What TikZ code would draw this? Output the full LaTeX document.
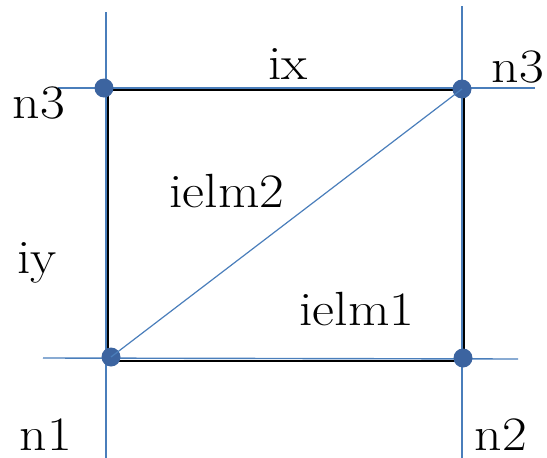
\documentclass[tikz,border=0pt]{standalone}
\newcommand{\widetxt}[1]{\scalebox{1.12}[1]{#1}}
\begin{document}
\begin{tikzpicture}[x=1pt,y=-1pt,
  gridline/.style={draw=lineblue,line width=1.4pt},
  frame/.style={draw=black,line width=2.6pt},
  dot/.style={circle,fill=dotblue,inner sep=0pt,minimum size=19pt},
  lbl/.style={anchor=base,inner sep=0pt,font=\fontsize{48}{52}\selectfont}]
\definecolor{lineblue}{RGB}{74,126,187}
\definecolor{dotblue}{RGB}{60,100,160}
\useasboundingbox (0,0) rectangle (547,458);
% frame
\coordinate (f1) at (108,361);
\coordinate (f2) at (463.5,361);
\coordinate (f3) at (463.5,90);
\coordinate (f4) at (108,90);
\draw[frame] (f1) -- (f2) -- (f3) -- (f4) -- cycle;
% grid line ends
\coordinate (vlt) at (106,12);
\coordinate (vlb) at (106,458);
\coordinate (vrt) at (462,6);
\coordinate (vrb) at (462,458);
\coordinate (htl) at (58,88);
\coordinate (htr) at (535,88);
\coordinate (hbl) at (43,358);
\coordinate (hbr) at (518,359);
\draw[gridline] (vlt) -- (vlb);
\draw[gridline] (vrt) -- (vrb);
\draw[gridline] (htl) -- (htr);
\draw[gridline] (hbl) -- (hbr);
% dots
\node[dot] (p3l) at (104,88) {};
\node[dot] (p3r) at (462,89) {};
\node[dot] (p1) at (111,357) {};
\node[dot] (p2) at (463,358) {};
\draw[gridline,line width=1.2pt] (p1.center) -- (p3r.center);
% labels
\node[lbl] (tix) at (288,79) {\widetxt{ix}};
\node[lbl] (tn3l) at (39,118) {\widetxt{n3}};
\node[lbl] (tn3r) at (518,82) {\widetxt{n3}};
\node[lbl] (te2) at (227,207) {\widetxt{ielm2}};
\node[lbl] (tiy) at (37,273) {\widetxt{iy}};
\node[lbl] (te1) at (357,325) {\widetxt{ielm1}};
\node[lbl] (tn1) at (46,450) {\widetxt{n1}};
\node[lbl] (tn2) at (501,450) {\widetxt{n2}};
\end{tikzpicture}
\end{document}
